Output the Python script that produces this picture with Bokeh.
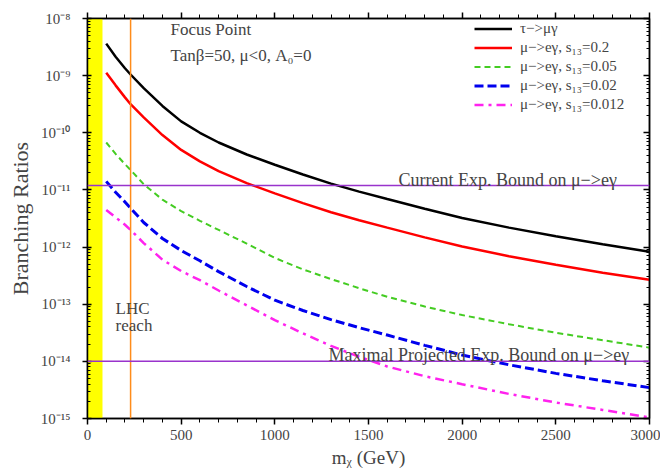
from bokeh.plotting import figure
from bokeh.models import (Range1d, LinearAxis, LogAxis, FixedTicker, SingleIntervalTicker,
                          CustomJSTickFormatter, BoxAnnotation, Span, Label)
from bokeh.embed import file_html
from bokeh.resources import INLINE

# ---- data (log10 of branching ratio) ----
m_chi = [100, 150, 200, 230, 300, 400, 500, 600, 700, 850, 1000, 1150, 1300, 1450, 1600,
         1800, 2000, 2250, 2500, 2750, 3000]
log_tau_mu = [-8.44, -8.67, -8.87, -8.98, -9.22, -9.53, -9.80, -10.00, -10.17, -10.38, -10.56,
              -10.73, -10.89, -11.03, -11.16, -11.33, -11.49, -11.66, -11.81, -11.95, -12.08]
log_mue_02 = [-8.95, -9.17, -9.38, -9.50, -9.73, -10.04, -10.30, -10.50, -10.67, -10.88, -11.06,
              -11.23, -11.39, -11.53, -11.66, -11.83, -11.99, -12.16, -12.31, -12.45, -12.57]
log_mue_005 = [-10.17, -10.37, -10.55, -10.65, -10.90, -11.17, -11.37, -11.54, -11.70, -11.94,
               -12.19, -12.39, -12.56, -12.72, -12.87, -13.04, -13.19, -13.35, -13.50, -13.63, -13.76]
log_mue_002 = [-10.85, -11.04, -11.21, -11.32, -11.57, -11.85, -12.06, -12.24, -12.43, -12.69,
               -12.93, -13.11, -13.27, -13.41, -13.54, -13.72, -13.89, -14.06, -14.21, -14.34, -14.46]
log_mue_0012 = [-11.35, -11.48, -11.61, -11.70, -11.93, -12.22, -12.42, -12.58, -12.76, -13.02,
                -13.28, -13.51, -13.73, -13.92, -14.09, -14.26, -14.40, -14.57, -14.72, -14.85, -14.98]

labels = ["τ−>μγ", "μ−>eγ, s₁₃=0.2", "μ−>eγ, s₁₃=0.05", "μ−>eγ, s₁₃=0.02", "μ−>eγ, s₁₃=0.012"]

current_bound = 1.2e-11
projected_bound = 1e-14
lhc_reach = 230
excluded_max = 80

y_ticks = [1e-15, 1e-14, 1e-13, 1e-12, 1e-11, 1e-10, 1e-9, 1e-8]
y_minor = [k * t for t in y_ticks[:-1] for k in range(2, 10)]

FONT = "Liberation Serif"

def br(logs):
    return [10 ** v for v in logs]

p = figure(width=660, height=470, output_backend="svg", toolbar_location=None,
           x_range=Range1d(0, 3000), y_range=Range1d(1e-15, 1e-8), y_axis_type="log",
           min_border_left=87, min_border_right=11, min_border_top=18, min_border_bottom=51,
           x_axis_location=None, y_axis_location=None)
p.xgrid.visible = False
p.ygrid.visible = False
p.outline_line_color = "black"
p.outline_line_width = 1.5

sup_code = """
const e = Math.round(Math.log10(tick));
const sup = {'-':'⁻','0':'⁰','1':'¹','2':'²','3':'³','4':'⁴','5':'⁵','6':'⁶','7':'⁷','8':'⁸','9':'⁹'};
return '10' + String(e).split('').map(c => sup[c]).join('');
"""
blank = CustomJSTickFormatter(code="return '';")

def style(ax):
    ax.axis_line_width = 1.5
    ax.major_tick_line_width = 1.5
    ax.minor_tick_line_width = 1
    ax.major_label_text_font = FONT
    ax.major_label_text_font_size = "15px"
    ax.axis_label_text_font = FONT
    ax.axis_label_text_font_size = "19px"
    ax.axis_label_text_font_style = "normal"

xb = LinearAxis(ticker=SingleIntervalTicker(interval=500, num_minor_ticks=5), axis_label="mᵪ (GeV)")
style(xb)
xb.major_tick_out = 6; xb.major_tick_in = 0
xb.minor_tick_out = 4; xb.minor_tick_in = 0
xb.major_label_standoff = 5
xb.axis_label_standoff = 4
p.add_layout(xb, "below")

xt = LinearAxis(ticker=SingleIntervalTicker(interval=500, num_minor_ticks=5), formatter=blank)
style(xt)
xt.major_label_text_color = None
xt.major_tick_out = 6; xt.major_tick_in = 0
xt.minor_tick_out = 4; xt.minor_tick_in = 0
p.add_layout(xt, "above")

yl = LogAxis(ticker=FixedTicker(ticks=y_ticks, minor_ticks=y_minor), axis_label="Branching Ratios",
             formatter=CustomJSTickFormatter(code=sup_code))
style(yl)
yl.axis_label_text_font_size = "22px"
yl.major_tick_out = 5; yl.major_tick_in = 4
yl.minor_tick_out = 0; yl.minor_tick_in = 3
yl.major_label_standoff = 12
yl.axis_label_standoff = 5
p.add_layout(yl, "left")

yr = LogAxis(ticker=FixedTicker(ticks=y_ticks, minor_ticks=y_minor), formatter=blank)
style(yr)
yr.major_label_text_color = None
yr.major_tick_out = 0; yr.major_tick_in = 6
yr.minor_tick_out = 0; yr.minor_tick_in = 3
p.add_layout(yr, "right")

# yellow excluded band and LHC reach
p.add_layout(BoxAnnotation(left=0, right=excluded_max, fill_color="#FFFF00", fill_alpha=1,
                           line_color=None, level="underlay"))
p.add_layout(Span(location=lhc_reach, dimension="height", line_color="#FF8C1A", line_width=1.5))
p.add_layout(Span(location=current_bound, dimension="width", line_color="#9933CC", line_width=1.5))
p.add_layout(Span(location=projected_bound, dimension="width", line_color="#9933CC", line_width=1.5))

p.line(m_chi, br(log_tau_mu), line_color="black", line_width=2.5, legend_label=labels[0])
p.line(m_chi, br(log_mue_02), line_color="#FF0000", line_width=2.5, legend_label=labels[1])
p.line(m_chi, br(log_mue_005), line_color="#44CC22", line_width=2, line_dash="6 4", legend_label=labels[2])
p.line(m_chi, br(log_mue_002), line_color="#0000EE", line_width=3, line_dash="9 4", legend_label=labels[3])
p.line(m_chi, br(log_mue_0012), line_color="#FF22EE", line_width=2.5, line_dash="9 5 3 5", legend_label=labels[4])

leg = p.legend[0]
leg.location = (385, 302)
leg.border_line_alpha = 0
leg.background_fill_alpha = 0
leg.padding = 2
leg.margin = 0
leg.spacing = 0
leg.label_height = 19
leg.glyph_height = 19
leg.glyph_width = 38
leg.label_standoff = 8
leg.label_text_font = FONT
leg.label_text_font_size = "15px"

def lab(x, y, t, size="17px", baseline="middle", y_offset=0):
    p.add_layout(Label(x=x, y=y, text=t, text_font=FONT, text_font_size=size,
                       text_baseline=baseline, y_offset=y_offset))

lab(443, 10**-8.2, "Focus Point")
lab(443, 10**-8.65, "Tanβ=50, μ<0, A₀=0")
lab(150, 10**-13.08, "LHC")
lab(150, 10**-13.38, "reach")
lab(1660, current_bound, "Current Exp. Bound on μ−>eγ", size="18px", baseline="alphabetic", y_offset=5)
lab(1286, projected_bound, "Maximal Projected Exp. Bound on μ−>eγ", size="18px", baseline="alphabetic", y_offset=6)

open("out.html", "w").write(file_html(p, INLINE))
